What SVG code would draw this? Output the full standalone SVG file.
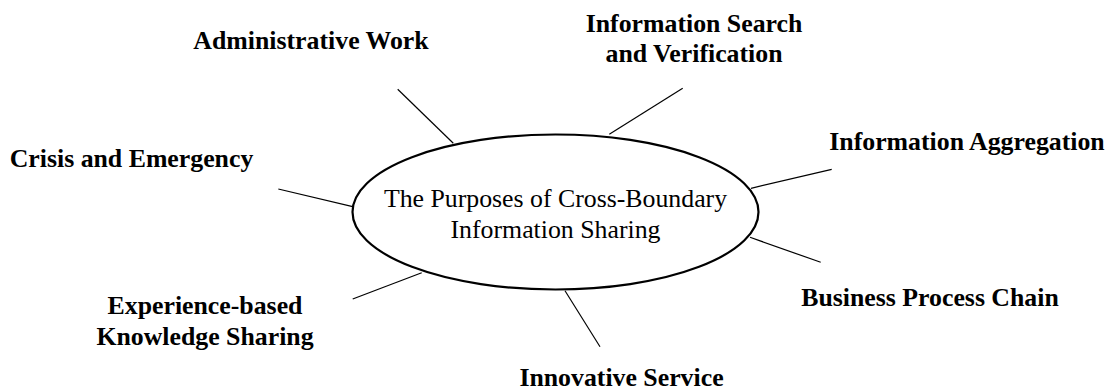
<svg xmlns="http://www.w3.org/2000/svg" width="1115" height="390" viewBox="0 0 1115 390">
  <style>
    .hub { fill: #ffffff; stroke: #000000; stroke-width: 2.2; }
    .hub-text { font-family: "Liberation Serif", "Times New Roman", serif; font-size: 25.8px; fill: #000000; text-anchor: middle; }
    .label { font-family: "Liberation Serif", "Times New Roman", serif; font-size: 25.8px; font-weight: bold; fill: #000000; text-anchor: middle; }
    .spoke { stroke: #000000; stroke-width: 1.2; fill: none; }
  </style>
  <rect width="1115" height="390" fill="#ffffff"/>

  <!-- spokes from the central ellipse to each purpose -->
  <g id="connectors">
    <line class="spoke" x1="397.7" y1="89.3" x2="453.3" y2="143.3"/>
    <line class="spoke" x1="682.7" y1="88.3" x2="609.3" y2="134.3"/>
    <line class="spoke" x1="831.7" y1="169.3" x2="751" y2="188.3"/>
    <line class="spoke" x1="278.3" y1="189" x2="352.7" y2="206.7"/>
    <line class="spoke" x1="352.7" y1="299" x2="421.7" y2="272.7"/>
    <line class="spoke" x1="600" y1="346.7" x2="565" y2="290.7"/>
    <line class="spoke" x1="820.7" y1="262.3" x2="750" y2="237.3"/>
  </g>

  <g id="hub">
    <ellipse class="hub" cx="555.5" cy="212" rx="203" ry="77.5"/>
    <text class="hub-text" x="555.5" y="207">The Purposes of Cross-Boundary</text>
    <text class="hub-text" x="555.5" y="238">Information Sharing</text>
  </g>

  <g id="administrative-work">
    <text class="label" x="311" y="48.5">Administrative Work</text>
  </g>

  <g id="information-search">
    <text class="label" x="694" y="32">Information Search</text>
    <text class="label" x="694" y="62">and Verification</text>
  </g>

  <g id="information-aggregation">
    <text class="label" x="967" y="150">Information Aggregation</text>
  </g>

  <g id="crisis-emergency">
    <text class="label" x="131.5" y="166.5">Crisis and Emergency</text>
  </g>

  <g id="experience-knowledge">
    <text class="label" x="205" y="314">Experience-based</text>
    <text class="label" x="205" y="345">Knowledge Sharing</text>
  </g>

  <g id="innovative-service">
    <text class="label" x="621.5" y="385.5">Innovative Service</text>
  </g>

  <g id="business-process">
    <text class="label" x="930" y="306">Business Process Chain</text>
  </g>
</svg>
